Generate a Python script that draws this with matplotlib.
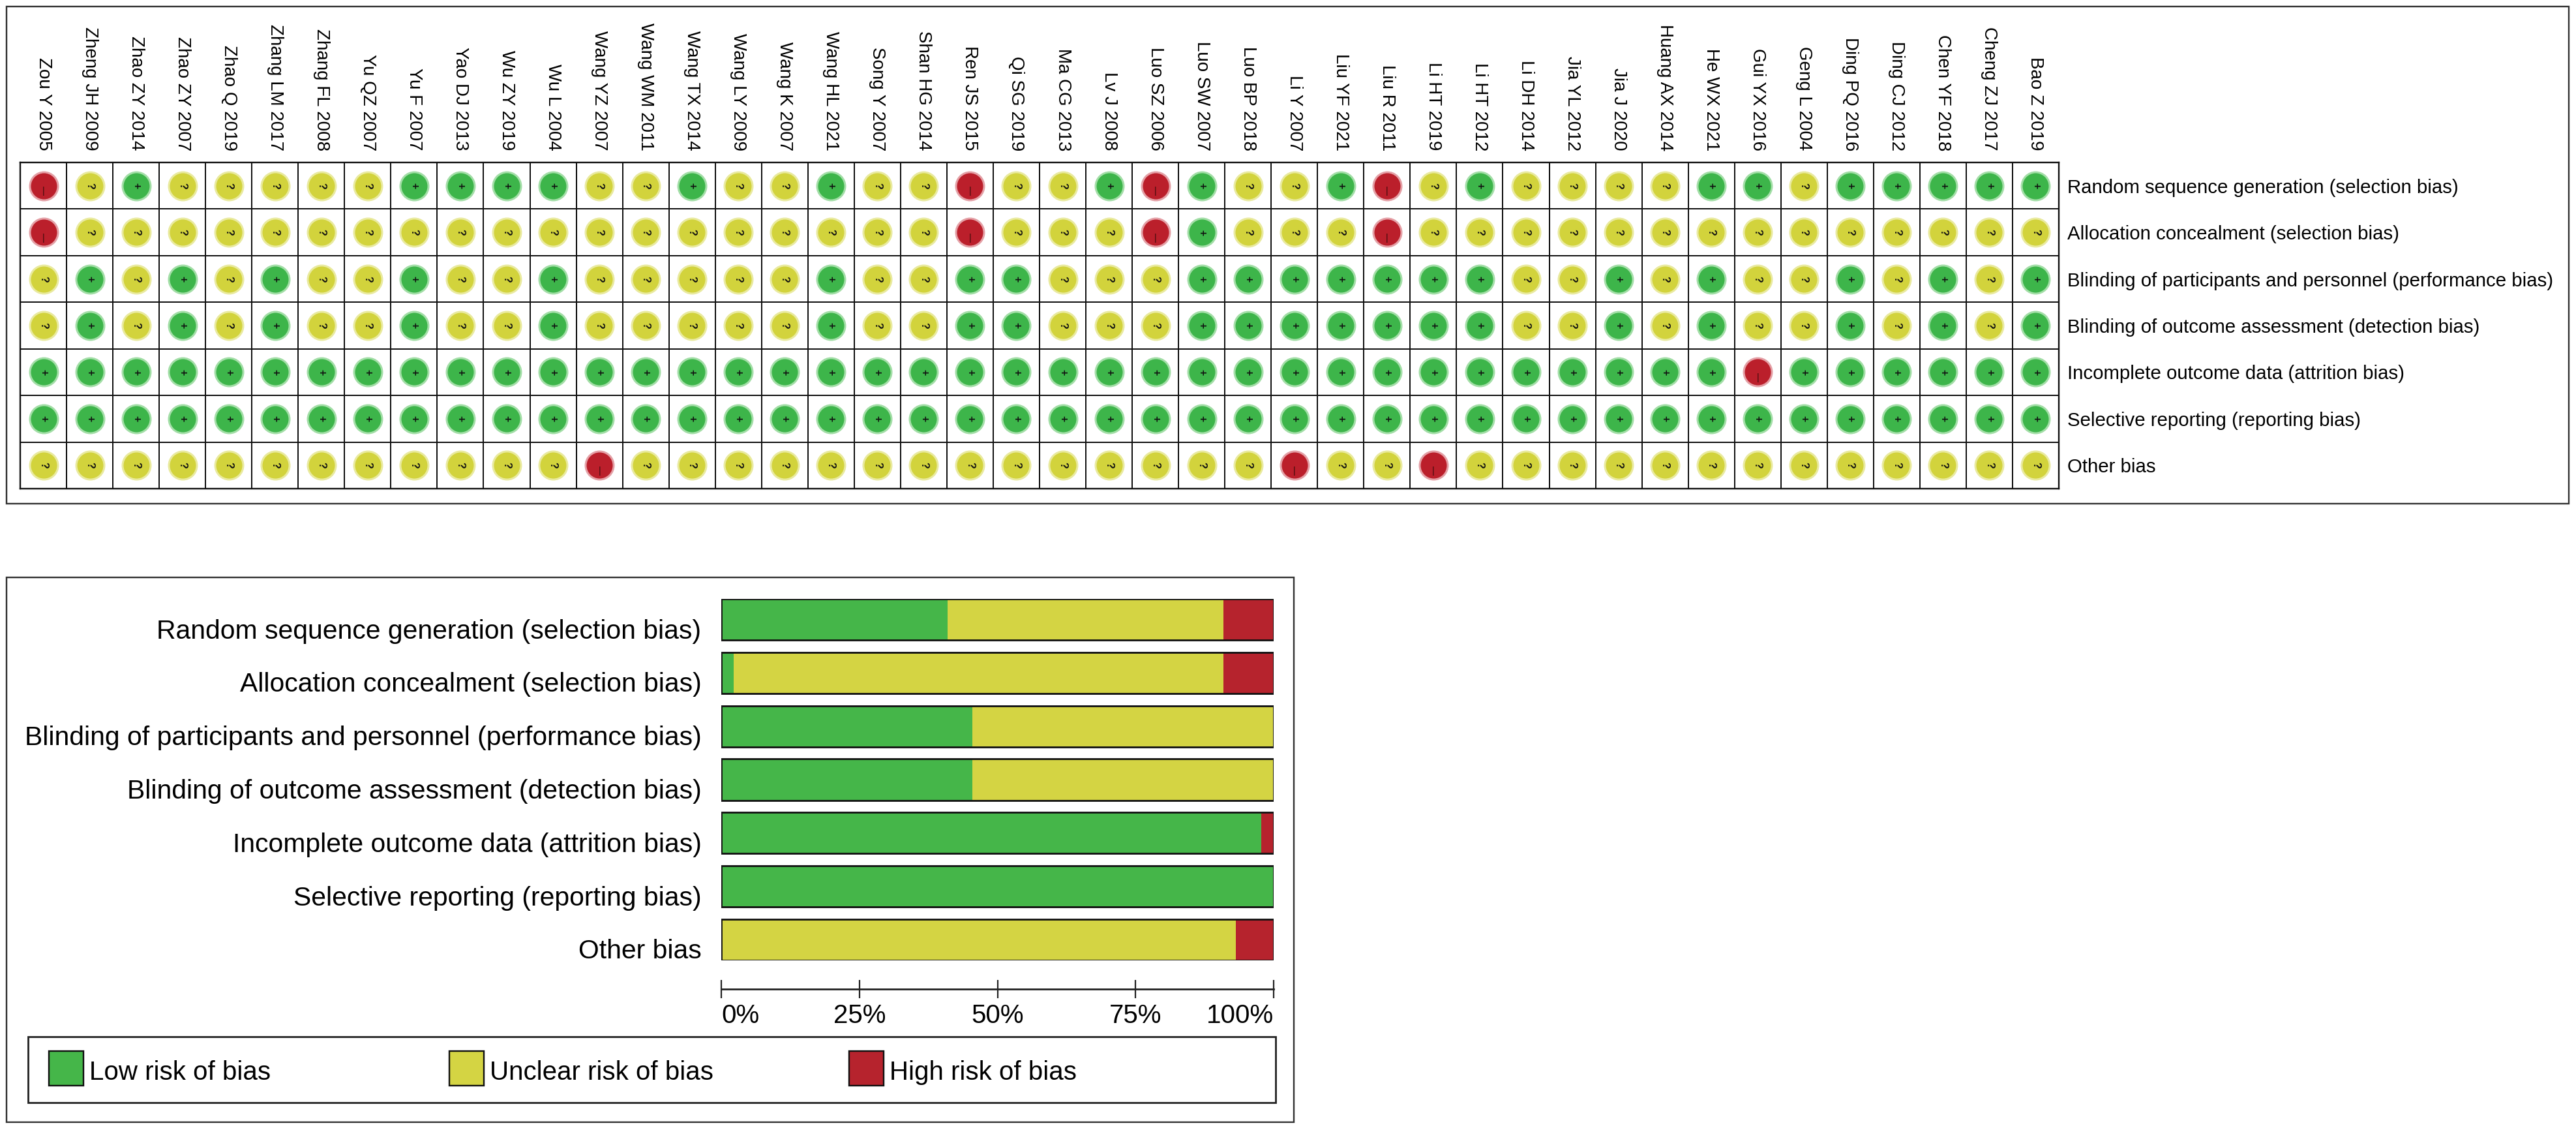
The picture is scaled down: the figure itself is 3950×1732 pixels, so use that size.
import numpy as np
import matplotlib
matplotlib.use("Agg")
import matplotlib.pyplot as plt
from matplotlib.patches import Rectangle
from matplotlib.transforms import ScaledTranslation

plt.rcParams['font.family'] = ['Liberation Sans', 'DejaVu Sans']

# ---------------- data ----------------
studies = ["Zou Y 2005", "Zheng JH 2009", "Zhao ZY 2014", "Zhao ZY 2007", "Zhao Q 2019",
           "Zhang LM 2017", "Zhang FL 2008", "Yu QZ 2007", "Yu F 2007", "Yao DJ 2013",
           "Wu ZY 2019", "Wu L 2004", "Wang YZ 2007", "Wang WM 2011", "Wang TX 2014",
           "Wang LY 2009", "Wang K 2007", "Wang HL 2021", "Song Y 2007", "Shan HG 2014",
           "Ren JS 2015", "Qi SG 2019", "Ma CG 2013", "Lv J 2008", "Luo SZ 2006",
           "Luo SW 2007", "Luo BP 2018", "Li Y 2007", "Liu YF 2021", "Liu R 2011",
           "Li HT 2019", "Li HT 2012", "Li DH 2014", "Jia YL 2012", "Jia J 2020",
           "Huang AX 2014", "He WX 2021", "Gui YX 2016", "Geng L 2004", "Ding PQ 2016",
           "Ding CJ 2012", "Chen YF 2018", "Cheng ZJ 2017", "Bao Z 2019"]

domains = ["Random sequence generation (selection bias)",
           "Allocation concealment (selection bias)",
           "Blinding of participants and personnel (performance bias)",
           "Blinding of outcome assessment (detection bias)",
           "Incomplete outcome data (attrition bias)",
           "Selective reporting (reporting bias)",
           "Other bias"]

# one character per study: '+' low, '?' unclear, '-' high
random_sequence      = "-?+?????++" "++??+??+??" "-??+-+??+-" "?+????++?+" "++++"
allocation           = "-?????????" "??????????" "-???-+???-" "??????????" "????"
blinding_participant = "?+?+?+??+?" "?+?????+??" "++???+++++" "++??+?+??+" "?+?+"
blinding_outcome     = "?+?+?+??+?" "?+?????+??" "++???+++++" "++??+?+??+" "?+?+"
incomplete_outcome   = "++++++++++" "++++++++++" "++++++++++" "+++++++-++" "++++"
selective_reporting  = "++++++++++" "++++++++++" "++++++++++" "++++++++++" "++++"
other_bias           = "??????????" "??-???????" "???????-??" "-?????????" "????"

judgments = [random_sequence, allocation, blinding_participant, blinding_outcome,
             incomplete_outcome, selective_reporting, other_bias]

levels = ['+', '?', '-']
legend_labels = ["Low risk of bias", "Unclear risk of bias", "High risk of bias"]
pct_ticks = [0, 25, 50, 75, 100]

# ---------------- styles ----------------
circ_col = {'+': '#3db54a', '?': '#d2d33c', '-': '#bb1f2b'}
halo_col = {'+': '#a3dea7', '?': '#e9ea9f', '-': '#e4a0a6'}
bar_col = {'+': '#45b649', '?': '#d4d443', '-': '#b6232d'}

W, H = 3950, 1732
DPI = 100
fig = plt.figure(figsize=(W / DPI, H / DPI), dpi=DPI)
PX = 72.0 / DPI  # points per pixel


def fx(x):
    return x / W


def fy(y):
    return 1 - y / H


# overlay axes in pixel coordinates for the panel frames and legend
ov = fig.add_axes([0, 0, 1, 1])
ov.set_xlim(0, W)
ov.set_ylim(H, 0)
ov.axis('off')
ov.add_patch(Rectangle((10, 10), 3929, 762, fill=False, ec='#333333', lw=2.4 * PX))
ov.add_patch(Rectangle((10, 885), 1974, 835, fill=False, ec='#333333', lw=2.4 * PX))

# ---------------- top: risk of bias summary grid ----------------
n_st = len(studies)
n_dm = len(domains)
gx0, gx1, gy0, gy1 = 31, 3157, 249, 749
ax1 = fig.add_axes([fx(gx0), fy(gy1), (gx1 - gx0) / W, (gy1 - gy0) / H])
ax1.set_xlim(0, n_st)
ax1.set_ylim(n_dm, 0)
for s in ax1.spines.values():
    s.set_linewidth(2.4 * PX)
    s.set_color('#111111')
for i in range(1, n_st):
    ax1.axvline(i, color='#111111', lw=2.0 * PX)
for j in range(1, n_dm):
    ax1.axhline(j, color='#111111', lw=2.0 * PX)

for j, row in enumerate(judgments):
    for lev in levels:
        xs = [i + 0.5 for i, c in enumerate(row) if c == lev]
        ys = [j + 0.5] * len(xs)
        ax1.scatter(xs, ys, s=(46 * PX) ** 2, color=halo_col[lev], lw=0, zorder=3)
        ax1.scatter(xs, ys, s=(40 * PX) ** 2, color=circ_col[lev], lw=0, zorder=4)
    for i, c in enumerate(row):
        if c == '-':
            ax1.text(i + 0.5, j + 0.62, "|", ha='center', va='center', fontsize=10,
                     color='#3a0a0a', zorder=5)
        else:
            ax1.text(i + 0.5, j + 0.5, c, ha='center', va='center', fontsize=11.5,
                     fontweight='bold', color='#111111', rotation=-90, zorder=5)

ax1.xaxis.tick_top()
ax1.set_xticks(np.arange(n_st) + 0.5)
ax1.set_xticklabels(studies, rotation=-90, fontsize=20, ha='center', va='bottom')
ax1.yaxis.tick_right()
ax1.set_yticks(np.arange(n_dm) + 0.5)
ax1.set_yticklabels(domains, fontsize=21.2)
ax1.tick_params(axis='x', length=0, pad=13)
ax1.tick_params(axis='y', length=0, pad=9)

# ---------------- bottom: risk of bias graph ----------------
bx0, bx1, by0, by1 = 1106, 1953, 918, 1472
ax2 = fig.add_axes([fx(bx0), fy(by1), (bx1 - bx0) / W, (by1 - by0) / H])
ax2.set_xlim(0, 100)
ax2.set_ylim(n_dm - 1 + 0.385, -0.385)
ypos = np.arange(n_dm)
left = np.zeros(n_dm)
for lev in levels:
    pct = np.array([100.0 * row.count(lev) / len(row) for row in judgments])
    ax2.barh(ypos, pct, left=left, height=0.77, color=bar_col[lev], lw=0, zorder=2)
    left += pct
ax2.barh(ypos, left, height=0.77, fill=False, ec='#111111', lw=2.8 * PX, zorder=3)
for s in ax2.spines.values():
    s.set_visible(False)
ax2.set_xticks([])
ax2.set_yticks(ypos)
ax2.set_yticklabels(domains, fontsize=29.4, va='baseline')
ax2.tick_params(axis='y', length=0, pad=22)
off = ScaledTranslation(0, -29 / DPI, fig.dpi_scale_trans)
for lbl in ax2.get_yticklabels():
    lbl.set_transform(lbl.get_transform() + off)

# percentage scale
ax3 = fig.add_axes([fx(bx0), fy(1516), (bx1 - bx0) / W, 10 / H])
ax3.set_xlim(0, 100)
ax3.patch.set_visible(False)
for k in ['top', 'left', 'right']:
    ax3.spines[k].set_visible(False)
ax3.spines['bottom'].set_linewidth(2.8 * PX)
ax3.spines['bottom'].set_color('#222222')
ax3.set_yticks([])
ax3.set_xticks(pct_ticks)
ax3.set_xticklabels([f"{t}%" for t in pct_ticks], fontsize=29)
ax3.tick_params(axis='x', direction='inout', length=28 * PX, width=2.2 * PX,
                color='#222222', pad=6)
tl = ax3.get_xticklabels()
tl[0].set_ha('left')
tl[-1].set_ha('right')

# legend
ov.add_patch(Rectangle((43, 1589), 1913, 101, fill=False, ec='#222222', lw=2.8 * PX))
leg_x = [75, 689, 1302]
for lev, lab, x in zip(levels, legend_labels, leg_x):
    ov.add_patch(Rectangle((x, 1611), 53, 53, fc=bar_col[lev], ec='#111111', lw=2.4 * PX))
    ov.text(x + 62, 1655, lab, fontsize=29, ha='left', va='baseline')

fig.savefig("out.png", dpi=DPI)
